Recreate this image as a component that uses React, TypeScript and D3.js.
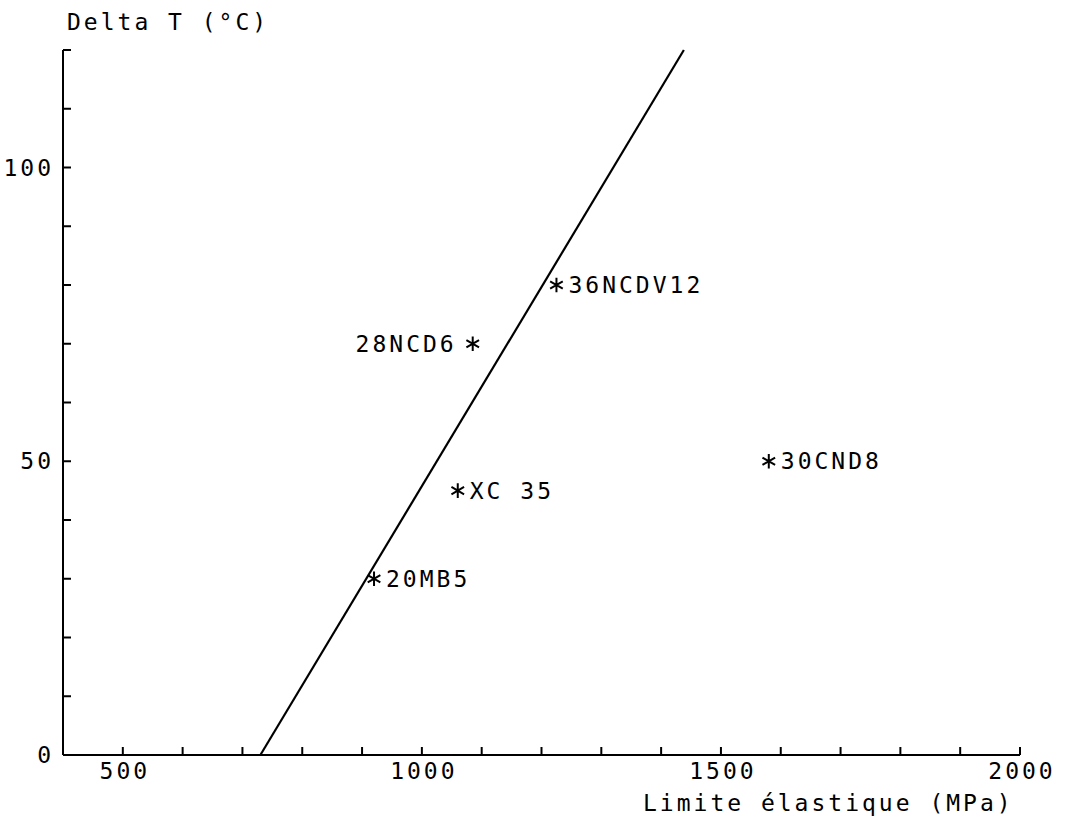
import React from "react";
import * as d3 from "d3";

const xTicks = [500, 600, 700, 800, 900, 1000, 1100, 1200, 1300, 1400, 1500, 1600, 1700, 1800, 1900, 2000];
const xTickLabels = [500, 1000, 1500, 2000];
const yTicks = [10, 20, 30, 40, 50, 60, 70, 80, 90, 100, 110, 120];
const yTickLabels = [0, 50, 100];

const steelNames = ["20MB5", "XC 35", "28NCD6", "36NCDV12", "30CND8"];
const yieldStrength = [920, 1060, 1085, 1225, 1580];
const deltaT = [30, 45, 70, 80, 50];
const labelSide = ["right", "right", "left", "right", "right"];

const fitLineX = [730, 1438];
const fitLineY = [0, 120];

const xTitle = "Limite élastique (MPa)";
const yTitle = "Delta T (°C)";

const W = 1065;
const H = 819;
const FONT = "'DejaVu Sans Mono', monospace";

export default function App() {
  const x = d3.scaleLinear().domain([400, 2000]).range([63, 1020]);
  const y = d3.scaleLinear().domain([0, 120]).range([755, 50]);
  const star = d3.symbol().type(d3.symbolAsterisk).size(150)();
  const line = d3
    .line<number>()
    .x((d, i) => x(fitLineX[i]))
    .y((d) => y(d));

  const textStyle: React.CSSProperties = {
    fontFamily: FONT,
    fontSize: 23,
    letterSpacing: 3,
    fill: "#000",
  };

  return (
    <svg
      width={W}
      height={H}
      style={{ position: "absolute", left: 0, top: 0, background: "#fff" }}
    >
      <rect x={0} y={0} width={W} height={H} fill="#fff" />
      {/* axes */}
      <line x1={x(400)} x2={x(2000)} y1={y(0)} y2={y(0)} stroke="#000" strokeWidth={2} />
      <line x1={x(400)} x2={x(400)} y1={y(0)} y2={y(120)} stroke="#000" strokeWidth={2} />
      {xTicks.map((t) => (
        <line key={"xt" + t} x1={x(t)} x2={x(t)} y1={y(0)} y2={y(0) - 8} stroke="#000" strokeWidth={2} />
      ))}
      {yTicks.map((t) => (
        <line key={"yt" + t} x1={x(400)} x2={x(400) + 8} y1={y(t)} y2={y(t)} stroke="#000" strokeWidth={2} />
      ))}
      {xTickLabels.map((t) => (
        <text key={"xl" + t} x={x(t) + 2} y={779} textAnchor="middle" style={textStyle}>
          {t}
        </text>
      ))}
      {yTickLabels.map((t) => (
        <text key={"yl" + t} x={x(400) - 9} y={y(t) + 8} textAnchor="end" style={textStyle}>
          {t}
        </text>
      ))}
      <text x={67} y={30} style={textStyle}>
        {yTitle}
      </text>
      <text x={643} y={811} style={textStyle}>
        {xTitle}
      </text>
      {/* fit line */}
      <path d={line(fitLineY) || ""} fill="none" stroke="#000" strokeWidth={2.2} />
      {/* points */}
      {steelNames.map((name, i) => {
        const px = x(yieldStrength[i]);
        const py = y(deltaT[i]);
        return (
          <g key={name}>
            <path d={star} transform={`translate(${px},${py})`} fill="none" stroke="#000" strokeWidth={2} />
            <text
              x={labelSide[i] === "right" ? px + 12 : px - 16}
              y={py + 8}
              textAnchor={labelSide[i] === "right" ? "start" : "end"}
              style={textStyle}
            >
              {name}
            </text>
          </g>
        );
      })}
    </svg>
  );
}
